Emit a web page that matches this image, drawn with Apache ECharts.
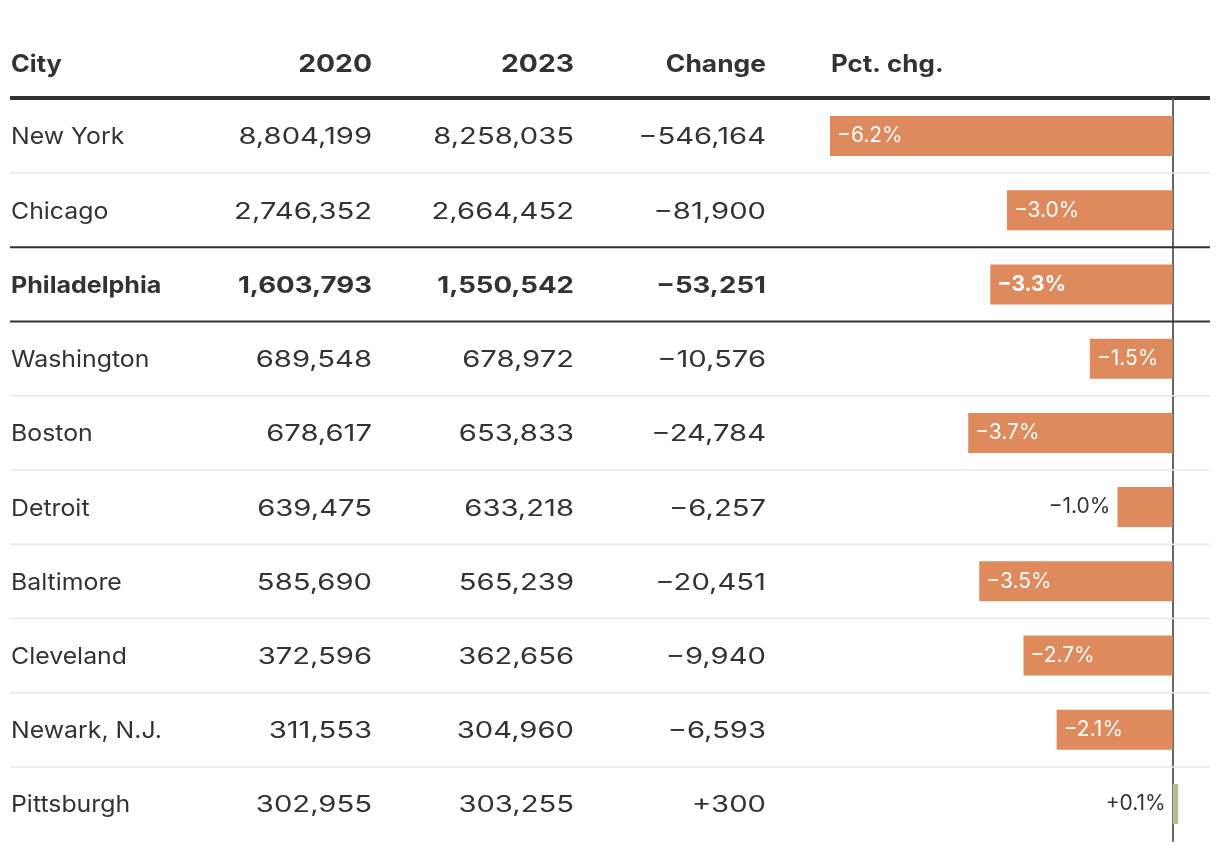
<!DOCTYPE html>
<html><head><meta charset="utf-8">
<script src="https://cdn.jsdelivr.net/npm/echarts@6/dist/echarts.min.js"></script>
<style>html,body{margin:0;padding:0;background:#fff}#c{width:1220px;height:850px}</style>
</head><body><div id="c"></div>
<script>
const headers = ['City', '2020', '2023', 'Change', 'Pct. chg.'];
const cities = ['New York', 'Chicago', 'Philadelphia', 'Washington', 'Boston', 'Detroit', 'Baltimore', 'Cleveland', 'Newark, N.J.', 'Pittsburgh'];
const pop2020 = [8804199, 2746352, 1603793, 689548, 678617, 639475, 585690, 372596, 311553, 302955];
const pop2023 = [8258035, 2664452, 1550542, 678972, 653833, 633218, 565239, 362656, 304960, 303255];
const change = [-546164, -81900, -53251, -10576, -24784, -6257, -20451, -9940, -6593, 300];
const pctChange = [-6.2, -3.0, -3.3, -1.5, -3.7, -1.0, -3.5, -2.7, -2.1, 0.1];
const highlightCity = 'Philadelphia';

const FONT = 'Inter, "Libre Franklin", Roboto, sans-serif';
const TEXT = '#333333';
const ORANGE = '#df8a5c';
const OLIVE = '#b8bc92';
// column anchors (x px) and horizontal stretch to mimic the wider original face
const COLS = [
  {x: 11, align: 'left', head: 1.06, reg: 1.08, bold: 1.09},
  {x: 372, align: 'right', head: 1.18, reg: 1.27, bold: 1.2},
  {x: 574, align: 'right', head: 1.18, reg: 1.27, bold: 1.2},
  {x: 766, align: 'right', head: 1.1, reg: 1.27, bold: 1.2},
  {x: 831, align: 'left', head: 1.08, reg: 1.08, bold: 1.08}
];

const fmtInt = n => n.toLocaleString('en-US');
const fmtSigned = n => (n < 0 ? '\u2212' : '+') + Math.abs(n).toLocaleString('en-US');
const fmtPct = v => (v < 0 ? '\u2212' : '+') + Math.abs(v).toFixed(1) + '%';

const chart = echarts.init(document.getElementById('c'), null, {renderer: 'canvas'});

const headerGraphics = headers.map((h, i) => ({
  type: 'text',
  x: COLS[i].x, y: 65,
  scaleX: COLS[i].head,
  style: {text: h, fill: TEXT, font: 'bold 24px ' + FONT, align: COLS[i].align, verticalAlign: 'middle'}
}));
headerGraphics.push({
  type: 'line', shape: {x1: 10, y1: 98, x2: 1210, y2: 98},
  style: {stroke: '#333333', lineWidth: 4}
});

function renderRow(params, api) {
  const idx = api.value(1);
  const pt = api.coord([0, idx]);
  const band = api.size([0, 1])[1];
  const y = pt[1];
  const bottom = y + band / 2;
  const bold = cities[idx] === highlightCity;
  const font = (bold ? 'bold ' : '') + '23px ' + FONT;
  const vals = [cities[idx], fmtInt(pop2020[idx]), fmtInt(pop2023[idx]), fmtSigned(change[idx])];
  const children = vals.map((t, c) => ({
    type: 'text', x: COLS[c].x, y: y + 1.5, scaleX: bold ? COLS[c].bold : COLS[c].reg,
    style: {text: t, fill: TEXT, font: font, align: COLS[c].align, verticalAlign: 'middle'}
  }));
  if (idx < cities.length - 1) {
    const dark = bold || cities[idx + 1] === highlightCity;
    children.push({
      type: 'line',
      shape: {x1: 10, y1: bottom, x2: 1210, y2: bottom},
      style: {stroke: dark ? '#333333' : '#e8e8e8', lineWidth: dark ? 2 : 1.5}
    });
  }
  return {type: 'group', children: children};
}

chart.setOption({
  animation: false,
  backgroundColor: '#ffffff',
  grid: {left: 830, top: 98.9, width: 375.9, height: 742.2},
  xAxis: {type: 'value', min: -6.2, max: 0.6, show: false},
  yAxis: {
    type: 'category', data: cities, inverse: true,
    axisLine: {show: true, onZero: true, lineStyle: {color: '#666666', width: 2}},
    axisTick: {show: false}, axisLabel: {show: false}, splitLine: {show: false}
  },
  graphic: headerGraphics,
  series: [
    {
      type: 'custom',
      renderItem: renderRow,
      data: cities.map((c, i) => [0, i]),
      z: 1, silent: true
    },
    {
      type: 'bar',
      barWidth: 40,
      z: 2,
      data: pctChange.map((v, i) => {
        const inside = Math.abs(v) >= 1.2;
        const bold = cities[i] === highlightCity;
        return {
          value: v,
          itemStyle: {color: v < 0 ? ORANGE : OLIVE},
          label: {
            show: true,
            position: inside ? 'insideLeft' : 'left',
            distance: 7,
            color: inside ? '#ffffff' : TEXT,
            fontFamily: FONT,
            fontSize: 21,
            fontWeight: bold ? 'bold' : 'normal',
            formatter: () => fmtPct(v)
          }
        };
      })
    }
  ]
});
</script></body></html>
